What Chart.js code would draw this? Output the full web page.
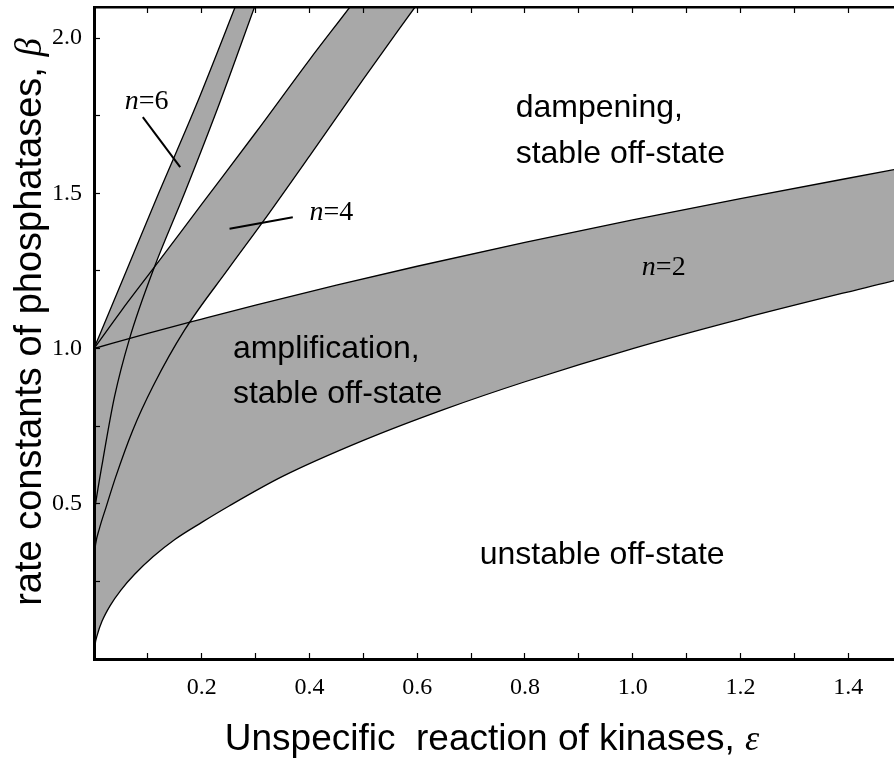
<!DOCTYPE html>
<html>
<head>
<meta charset="utf-8">
<script src="https://cdn.jsdelivr.net/npm/chart.js@4.4.1/dist/chart.umd.min.js"></script>
<style>
  html, body { margin: 0; padding: 0; background: #ffffff; }
  canvas { display: block; }
</style>
</head>
<body>
<canvas id="chart" width="894" height="765"></canvas>
<script>
// Stability boundaries in the (ε, β) plane for cascades with n = 2, 4, 6.
// Each band lies between an upper and a lower boundary curve.

// n = 2
const n2UpperEps  = [0, 0.1, 0.2, 0.3, 0.45, 0.6, 0.8, 1.0, 1.2, 1.485];
const n2UpperBeta = [1.0, 1.049, 1.095, 1.14, 1.204, 1.265, 1.342, 1.414, 1.483, 1.576];
const n2LowerEps  = [0, 0.002, 0.006, 0.015, 0.03, 0.05, 0.075, 0.11, 0.15, 0.2, 0.25, 0.35, 0.5, 0.65, 0.8, 1.0, 1.2, 1.485];
const n2LowerBeta = [0, 0.045, 0.077, 0.122, 0.172, 0.222, 0.272, 0.33, 0.385, 0.44, 0.492, 0.588, 0.704, 0.804, 0.893, 1.0, 1.095, 1.219];

// n = 4 (runs off the top of the plot)
const n4UpperEps  = [0, 0.05, 0.112, 0.2, 0.3, 0.4, 0.475, 0.596];
const n4UpperBeta = [1.0, 1.12, 1.262, 1.465, 1.695, 1.93, 2.1, 2.38];
const n4LowerEps  = [0, 0.003, 0.01, 0.0226, 0.04, 0.072, 0.11, 0.168, 0.25, 0.313, 0.4, 0.5, 0.596];
const n4LowerBeta = [0.32, 0.37, 0.42, 0.49, 0.585, 0.737, 0.88, 1.059, 1.258, 1.407, 1.62, 1.868, 2.1];

// n = 6 (runs off the top of the plot)
const n6UpperEps  = [0, 0.06, 0.12, 0.19, 0.262, 0.298];
const n6UpperBeta = [1.0, 1.25, 1.5, 1.785, 2.1, 2.26];
const n6LowerEps  = [0, 0.003, 0.0164, 0.038, 0.066, 0.112, 0.168, 0.233, 0.298];
const n6LowerBeta = [0.46, 0.5, 0.64, 0.844, 1.032, 1.262, 1.5, 1.79, 2.1];

// Axis tick labels
const xTickLabels = ['0.2', '0.4', '0.6', '0.8', '1.0', '1.2', '1.4'];
const yTickLabels = ['0.5', '1.0', '1.5', '2.0'];

const SANS  = '"Liberation Sans", Arial, Helvetica, sans-serif';
const SERIF = '"Liberation Serif", "Times New Roman", Times, serif';
const BAND_GRAY = 'rgb(168,168,168)';

// Region annotations (anchored in data units: left edge, baseline)
const regionLabels = [
  { text: 'dampening,',          eps: 0.7827, beta: 1.747 },
  { text: 'stable off-state',    eps: 0.7827, beta: 1.597 },
  { text: 'amplification,',      eps: 0.2578, beta: 0.971 },
  { text: 'stable off-state',    eps: 0.2578, beta: 0.824 },
  { text: 'unstable off-state',  eps: 0.716,  beta: 0.305 }
];
// Band names (centre, baseline) and their pointer lines
const bandLabels = [
  { k: '6', eps: 0.0975, beta: 1.773 },
  { k: '4', eps: 0.4405, beta: 1.4125 },
  { k: '2', eps: 1.0576, beta: 1.2357 }
];
const pointers = [
  [[0.0906, 1.745], [0.160, 1.584]],
  [[0.2516, 1.386], [0.369, 1.423]]
];

function pts(xs, ys) { return xs.map((v, i) => ({ x: v, y: ys[i] })); }

function boundary(xs, ys, fill) {
  return {
    data: pts(xs, ys),
    fill: fill,
    backgroundColor: BAND_GRAY,
    borderColor: '#000',
    borderWidth: 1.3,
    pointRadius: 0,
    cubicInterpolationMode: 'monotone'
  };
}

const annotate = {
  id: 'phaseAnnotations',
  afterDatasetsDraw(chart) {
    const { ctx } = chart;
    const xs = chart.scales.x, ys = chart.scales.y;
    const px = v => xs.getPixelForValue(v);
    const py = v => ys.getPixelForValue(v);
    ctx.save();
    ctx.fillStyle = '#000';
    ctx.strokeStyle = '#000';

    ctx.lineWidth = 2;
    pointers.forEach(([a, b]) => {
      ctx.beginPath();
      ctx.moveTo(px(a[0]), py(a[1]));
      ctx.lineTo(px(b[0]), py(b[1]));
      ctx.stroke();
    });

    ctx.textBaseline = 'alphabetic';
    ctx.textAlign = 'left';
    ctx.font = '32px ' + SANS;
    regionLabels.forEach(l => ctx.fillText(l.text, px(l.eps), py(l.beta)));

    bandLabels.forEach(l => {
      const nFont = 'italic 28px ' + SERIF, rFont = '28px ' + SERIF;
      ctx.font = nFont; const wn = ctx.measureText('n').width;
      ctx.font = rFont; const wr = ctx.measureText('=' + l.k).width;
      const x0 = px(l.eps) - (wn + wr) / 2, yb = py(l.beta);
      ctx.font = nFont; ctx.fillText('n', x0, yb);
      ctx.font = rFont; ctx.fillText('=' + l.k, x0 + wn, yb);
    });
    ctx.restore();
  },
  afterDraw(chart) {
    const { ctx } = chart;
    ctx.save();
    ctx.fillStyle = '#000';
    ctx.textBaseline = 'alphabetic';
    ctx.textAlign = 'left';

    // x-axis title
    const xMain = 'Unspecific  reaction of kinases, ';
    ctx.font = '37px ' + SANS; const wx = ctx.measureText(xMain).width;
    ctx.font = 'italic 36px ' + SERIF; const we = ctx.measureText('ε').width;
    let x0 = 492 - (wx + we) / 2;
    ctx.font = '37px ' + SANS; ctx.fillText(xMain, x0, 750);
    ctx.font = 'italic 36px ' + SERIF; ctx.fillText('ε', x0 + wx, 750);

    // y-axis title
    ctx.translate(41, 322);
    ctx.rotate(-Math.PI / 2);
    const yMain = 'rate constants of phosphatases, ';
    ctx.font = '38px ' + SANS; const wy = ctx.measureText(yMain).width;
    ctx.font = 'italic 37px ' + SERIF; const wb = ctx.measureText('β').width;
    x0 = -(wy + wb) / 2;
    ctx.font = '38px ' + SANS; ctx.fillText(yMain, x0, 0);
    ctx.font = 'italic 37px ' + SERIF; ctx.fillText('β', x0 + wy, 0);
    ctx.restore();
  }
};

const inwardGrid = w => ({
  display: true, drawOnChartArea: false, drawTicks: true,
  tickLength: -6, tickColor: '#000', tickWidth: w, z: 1
});

const noPad = s => { s.paddingTop = 0; s.paddingBottom = 0; s.paddingLeft = 0; s.paddingRight = 0; };

new Chart(document.getElementById('chart'), {
  type: 'line',
  data: {
    datasets: [
      boundary(n2UpperEps, n2UpperBeta, '+1'),
      boundary(n2LowerEps, n2LowerBeta, false),
      boundary(n4UpperEps, n4UpperBeta, '+1'),
      boundary(n4LowerEps, n4LowerBeta, false),
      boundary(n6UpperEps, n6UpperBeta, '+1'),
      boundary(n6LowerEps, n6LowerBeta, false)
    ]
  },
  options: {
    responsive: false,
    animation: false,
    devicePixelRatio: 1,
    layout: { padding: 0 },
    events: [],
    plugins: {
      legend: { display: false },
      tooltip: { enabled: false },
      filler: { drawTime: 'beforeDatasetsDraw' }
    },
    scales: {
      x: {
        type: 'linear', position: 'bottom', min: 0, max: 1.485,
        afterFit: s => { s.height = 106; noPad(s); },
        border: { display: true, color: '#000', width: 3, z: 1 },
        grid: inwardGrid(1.2),
        ticks: {
          stepSize: 0.1, includeBounds: false, autoSkip: false, maxRotation: 0,
          padding: 20, color: '#000', font: { family: SERIF, size: 24 },
          callback: v => { const s = Number(v).toFixed(1); return xTickLabels.includes(s) ? s : ''; }
        }
      },
      xTop: {
        axis: 'x', type: 'linear', position: 'top', min: 0, max: 1.485,
        afterFit: s => { s.height = 7; noPad(s); },
        border: { display: true, color: '#000', width: 2.5, z: 1 },
        grid: inwardGrid(1.2),
        ticks: { display: false, stepSize: 0.1, includeBounds: false, autoSkip: false }
      },
      y: {
        type: 'linear', position: 'left', min: 0, max: 2.1,
        afterFit: s => { s.width = 94; noPad(s); },
        border: { display: true, color: '#000', width: 3, z: 1 },
        grid: inwardGrid(1.2),
        ticks: {
          stepSize: 0.25, includeBounds: false, autoSkip: false,
          padding: 18, color: '#000', font: { family: SERIF, size: 24 },
          callback: v => { const s = Number(v).toFixed(1); return (yTickLabels.includes(s) && Math.abs(v * 2 - Math.round(v * 2)) < 1e-9) ? s : ''; }
        }
      }
    }
  },
  plugins: [annotate]
});
</script>
</body>
</html>
